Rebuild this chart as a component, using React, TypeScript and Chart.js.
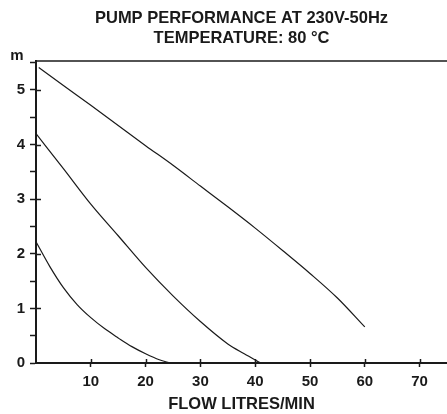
import { useEffect, useRef } from "react";
import { Chart, registerables } from "chart.js";

Chart.register(...registerables);

// ---- text ----
const titleLines = ["PUMP PERFORMANCE AT 230V-50Hz", "TEMPERATURE: 80 °C"];
const xAxisTitle = "FLOW LITRES/MIN";
const yUnitLabel = "m";

// ---- axis ranges / ticks ----
const flowMin = 0;
const flowMax = 75;
const flowStep = 10;
const headMin = 0;
const headMax = 5.53;
const headStep = 0.5;

// ---- curves (flow in l/min, head in m) ----
const highSpeedFlow = [0.5, 5, 10, 15, 20, 25, 30, 35, 40, 45, 50, 55, 60];
const highSpeedHead = [5.41, 5.08, 4.72, 4.35, 3.98, 3.62, 3.24, 2.86, 2.47, 2.06, 1.64, 1.19, 0.66];

const midSpeedFlow = [0, 5, 10, 15, 20, 25, 30, 35, 38, 41];
const midSpeedHead = [4.2, 3.56, 2.91, 2.33, 1.75, 1.23, 0.76, 0.35, 0.17, 0.0];

const lowSpeedFlow = [0, 2.5, 5, 7.5, 10, 12.5, 15, 17.5, 20, 22.5, 24.5];
const lowSpeedHead = [2.22, 1.77, 1.38, 1.07, 0.83, 0.63, 0.46, 0.3, 0.17, 0.06, 0.0];

const FONT = "'Liberation Sans', Arial, Helvetica, sans-serif";
const INK = "#1a1a1a";

const toPoints = (xs: number[], ys: number[]) => xs.map((x, i) => ({ x, y: ys[i] }));

const axisDecor = {
  id: "axisDecor",
  afterDraw(chart: any) {
    const { ctx, chartArea, scales } = chart;
    ctx.save();
    ctx.strokeStyle = INK;
    // top frame line
    ctx.lineWidth = 1.5;
    ctx.beginPath();
    ctx.moveTo(chartArea.left, chartArea.top);
    ctx.lineTo(chartArea.right, chartArea.top);
    ctx.stroke();
    // inward part of major y ticks
    scales.y.ticks.forEach((t: any) => {
      if (Number.isInteger(t.value) && t.value > 0) {
        const py = Math.round(scales.y.getPixelForValue(t.value)) + 0.5;
        ctx.beginPath();
        ctx.moveTo(chartArea.left, py);
        ctx.lineTo(chartArea.left + 5, py);
        ctx.stroke();
      }
    });
    // inward part of x ticks
    scales.x.ticks.forEach((t: any) => {
      if (t.value > 0) {
        const px = Math.round(scales.x.getPixelForValue(t.value)) + 0.5;
        ctx.beginPath();
        ctx.moveTo(px, chartArea.bottom);
        ctx.lineTo(px, chartArea.bottom - 4);
        ctx.stroke();
      }
    });
    // unit label
    ctx.fillStyle = INK;
    ctx.font = `bold 15px ${FONT}`;
    ctx.textAlign = "center";
    ctx.textBaseline = "alphabetic";
    ctx.fillText(yUnitLabel, 17, 60);
    ctx.restore();
  },
};

export default function App() {
  const canvasRef = useRef<HTMLCanvasElement | null>(null);

  useEffect(() => {
    if (!canvasRef.current) return;
    const lineStyle = {
      showLine: true,
      borderColor: INK,
      borderWidth: 1.2,
      pointRadius: 0,
      fill: false,
      cubicInterpolationMode: "monotone" as const,
    };
    const chart = new Chart(canvasRef.current, {
      type: "scatter",
      data: {
        datasets: [
          { label: "high", data: toPoints(highSpeedFlow, highSpeedHead), ...lineStyle },
          { label: "mid", data: toPoints(midSpeedFlow, midSpeedHead), ...lineStyle },
          { label: "low", data: toPoints(lowSpeedFlow, lowSpeedHead), ...lineStyle },
        ],
      },
      options: {
        animation: false,
        responsive: false,
        maintainAspectRatio: false,
        layout: { padding: 0 },
        plugins: {
          legend: { display: false },
          tooltip: { enabled: false },
          title: {
            display: true,
            text: titleLines,
            fullSize: false,
            color: INK,
            font: { family: FONT, size: 16.5, weight: "bold", lineHeight: 1.2 },
            padding: { top: 9, bottom: 12.4 },
          },
        },
        scales: {
          x: {
            type: "linear",
            min: flowMin,
            max: flowMax,
            afterFit: (s: any) => {
              s.height = 51;
            },
            ticks: {
              stepSize: flowStep,
              includeBounds: false,
              color: INK,
              font: { family: FONT, size: 15, weight: "bold" },
              padding: 6,
              maxRotation: 0,
              callback: (v: any) => (v === 0 ? "" : String(v)),
            },
            grid: {
              drawOnChartArea: false,
              tickLength: 4,
              tickWidth: 1.5,
              tickColor: (c: any) => (c.tick && c.tick.value === 0 ? "rgba(0,0,0,0)" : INK),
            },
            border: { color: INK, width: 2 },
            title: {
              display: true,
              text: xAxisTitle,
              color: INK,
              font: { family: FONT, size: 16.5, weight: "bold" },
              padding: { top: 0, bottom: 0 },
            },
          },
          y: {
            type: "linear",
            min: headMin,
            max: headMax,
            afterFit: (s: any) => {
              s.width = 36;
            },
            ticks: {
              stepSize: headStep,
              includeBounds: false,
              autoSkip: false,
              color: INK,
              font: { family: FONT, size: 15, weight: "bold" },
              padding: 5,
              callback: (v: any) => (Number.isInteger(v) ? String(v) : ""),
            },
            grid: {
              drawOnChartArea: false,
              tickLength: 6,
              tickWidth: 1.5,
              tickColor: INK,
            },
            border: { color: INK, width: 2 },
          },
        },
      },
      plugins: [axisDecor],
    });
    return () => chart.destroy();
  }, []);

  return (
    <div style={{ position: "fixed", left: 0, top: 0, width: 447, height: 414, background: "#fff" }}>
      <canvas ref={canvasRef} width={447} height={414} style={{ display: "block", width: 447, height: 414 }} />
    </div>
  );
}
